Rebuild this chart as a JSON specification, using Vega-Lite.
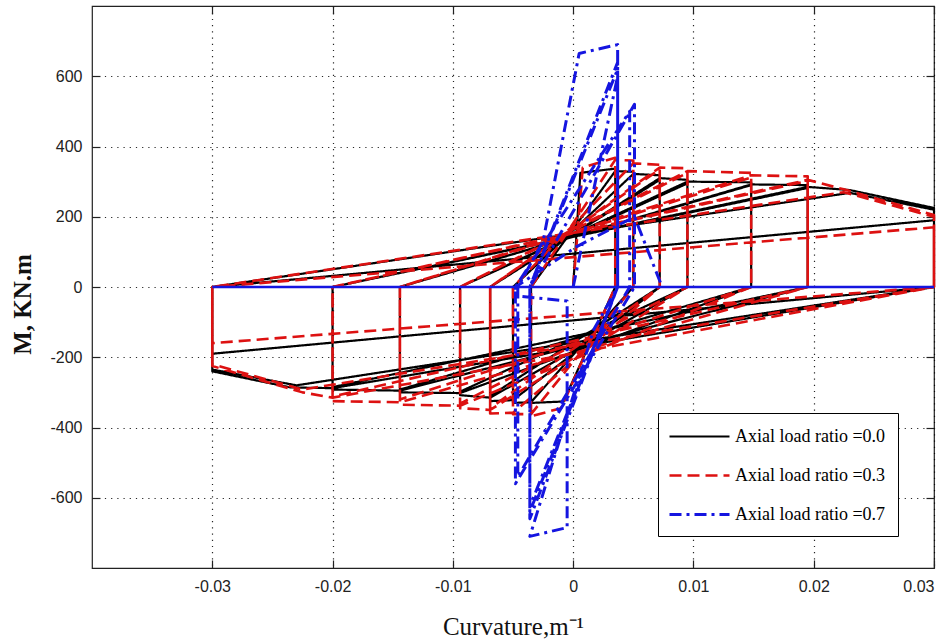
{
"$schema": "https://vega.github.io/schema/vega-lite/v6.json",
"width": 842, "height": 562,
"autosize": {"type": "none"},
"padding": {"left": 92, "top": 6, "right": 18, "bottom": 72},
"background": "white",
"datasets": {
"curves": [
{"k":"0.0","i":1,"x":0,"m":0},{"k":"0.0","i":2,"x":0.0006,"m":325},{"k":"0.0","i":3,"x":0.0035,"m":337},{"k":"0.0","i":4,"x":0.0035,"m":0},
{"k":"0.0","i":5,"x":-0.0008,"m":-326},{"k":"0.0","i":6,"x":-0.0035,"m":-330},{"k":"0.0","i":7,"x":-0.0035,"m":0},
{"k":"0.0","i":8,"x":0.0035,"m":330},{"k":"0.0","i":9,"x":0.005,"m":328},{"k":"0.0","i":10,"x":0.005,"m":0},
{"k":"0.0","i":11,"x":-0.0035,"m":-328},{"k":"0.0","i":12,"x":-0.005,"m":-330},{"k":"0.0","i":13,"x":-0.005,"m":0},
{"k":"0.0","i":14,"x":0.005,"m":322},{"k":"0.0","i":15,"x":0.0072,"m":318},{"k":"0.0","i":16,"x":0.0072,"m":0},
{"k":"0.0","i":17,"x":-0.005,"m":-322},{"k":"0.0","i":18,"x":-0.0069,"m":-325},{"k":"0.0","i":19,"x":-0.0069,"m":0},
{"k":"0.0","i":20,"x":0.0072,"m":305},{"k":"0.0","i":21,"x":0.0072,"m":0},{"k":"0.0","i":22,"x":-0.0069,"m":-310},{"k":"0.0","i":23,"x":-0.0069,"m":0},
{"k":"0.0","i":24,"x":0.0072,"m":310},{"k":"0.0","i":25,"x":0.0095,"m":305},{"k":"0.0","i":26,"x":0.0095,"m":0},
{"k":"0.0","i":27,"x":-0.0069,"m":-315},{"k":"0.0","i":28,"x":-0.0094,"m":-308},{"k":"0.0","i":29,"x":-0.0094,"m":0},
{"k":"0.0","i":30,"x":0.0095,"m":295},{"k":"0.0","i":31,"x":0.0095,"m":0},{"k":"0.0","i":32,"x":-0.0094,"m":-298},{"k":"0.0","i":33,"x":-0.0094,"m":0},
{"k":"0.0","i":34,"x":0.0095,"m":300},{"k":"0.0","i":35,"x":0.0148,"m":298},{"k":"0.0","i":36,"x":0.0148,"m":0},
{"k":"0.0","i":37,"x":-0.0094,"m":-302},{"k":"0.0","i":38,"x":-0.0144,"m":-300},{"k":"0.0","i":39,"x":-0.0144,"m":0},
{"k":"0.0","i":40,"x":0.0148,"m":290},{"k":"0.0","i":41,"x":0.0148,"m":0},{"k":"0.0","i":42,"x":-0.0144,"m":-292},{"k":"0.0","i":43,"x":-0.0144,"m":0},
{"k":"0.0","i":44,"x":0.0148,"m":292},{"k":"0.0","i":45,"x":0.0195,"m":290},{"k":"0.0","i":46,"x":0.0195,"m":0},
{"k":"0.0","i":47,"x":-0.0144,"m":-295},{"k":"0.0","i":48,"x":-0.02,"m":-292},{"k":"0.0","i":49,"x":-0.02,"m":0},
{"k":"0.0","i":50,"x":0.0195,"m":282},{"k":"0.0","i":51,"x":0.0195,"m":0},{"k":"0.0","i":52,"x":-0.02,"m":-285},{"k":"0.0","i":53,"x":-0.02,"m":0},
{"k":"0.0","i":54,"x":0.0195,"m":285},{"k":"0.0","i":55,"x":0.023,"m":276},{"k":"0.0","i":56,"x":0.03,"m":225},{"k":"0.0","i":57,"x":0.03,"m":0},
{"k":"0.0","i":58,"x":-0.02,"m":-288},{"k":"0.0","i":59,"x":-0.0235,"m":-286},{"k":"0.0","i":60,"x":-0.03,"m":-240},{"k":"0.0","i":61,"x":-0.03,"m":0},
{"k":"0.0","i":62,"x":0.023,"m":268},{"k":"0.0","i":63,"x":0.03,"m":220},{"k":"0.0","i":64,"x":0.03,"m":0},
{"k":"0.0","i":65,"x":-0.023,"m":-280},{"k":"0.0","i":66,"x":-0.03,"m":-235},{"k":"0.0","i":67,"x":-0.03,"m":0},
{"k":"0.0","i":68,"x":0.03,"m":190},{"k":"0.0","i":69,"x":0.03,"m":0},{"k":"0.0","i":70,"x":-0.03,"m":-190},{"k":"0.0","i":71,"x":-0.03,"m":0},

{"k":"0.3","i":1,"x":0,"m":0},{"k":"0.3","i":2,"x":0.0008,"m":340},{"k":"0.3","i":3,"x":0.0035,"m":368},{"k":"0.3","i":4,"x":0.0035,"m":0},
{"k":"0.3","i":5,"x":-0.001,"m":-345},{"k":"0.3","i":6,"x":-0.0035,"m":-368},{"k":"0.3","i":7,"x":-0.0035,"m":0},
{"k":"0.3","i":8,"x":0.0035,"m":362},{"k":"0.3","i":9,"x":0.005,"m":360},{"k":"0.3","i":10,"x":0.005,"m":0},
{"k":"0.3","i":11,"x":-0.0035,"m":-362},{"k":"0.3","i":12,"x":-0.005,"m":-362},{"k":"0.3","i":13,"x":-0.005,"m":0},
{"k":"0.3","i":14,"x":0.005,"m":352},{"k":"0.3","i":15,"x":0.0072,"m":348},{"k":"0.3","i":16,"x":0.0072,"m":0},
{"k":"0.3","i":17,"x":-0.005,"m":-358},{"k":"0.3","i":18,"x":-0.0069,"m":-360},{"k":"0.3","i":19,"x":-0.0069,"m":0},
{"k":"0.3","i":20,"x":0.0072,"m":335},{"k":"0.3","i":21,"x":0.0072,"m":0},{"k":"0.3","i":22,"x":-0.0069,"m":-345},{"k":"0.3","i":23,"x":-0.0069,"m":0},
{"k":"0.3","i":24,"x":0.0072,"m":340},{"k":"0.3","i":25,"x":0.0095,"m":338},{"k":"0.3","i":26,"x":0.0095,"m":0},
{"k":"0.3","i":27,"x":-0.0069,"m":-350},{"k":"0.3","i":28,"x":-0.0094,"m":-345},{"k":"0.3","i":29,"x":-0.0094,"m":0},
{"k":"0.3","i":30,"x":0.0095,"m":325},{"k":"0.3","i":31,"x":0.0095,"m":0},{"k":"0.3","i":32,"x":-0.0094,"m":-332},{"k":"0.3","i":33,"x":-0.0094,"m":0},
{"k":"0.3","i":34,"x":0.0095,"m":330},{"k":"0.3","i":35,"x":0.0148,"m":325},{"k":"0.3","i":36,"x":0.0148,"m":0},
{"k":"0.3","i":37,"x":-0.0094,"m":-338},{"k":"0.3","i":38,"x":-0.0144,"m":-335},{"k":"0.3","i":39,"x":-0.0144,"m":0},
{"k":"0.3","i":40,"x":0.0148,"m":312},{"k":"0.3","i":41,"x":0.0148,"m":0},{"k":"0.3","i":42,"x":-0.0144,"m":-320},{"k":"0.3","i":43,"x":-0.0144,"m":0},
{"k":"0.3","i":44,"x":0.0148,"m":318},{"k":"0.3","i":45,"x":0.0195,"m":315},{"k":"0.3","i":46,"x":0.0195,"m":0},
{"k":"0.3","i":47,"x":-0.0144,"m":-328},{"k":"0.3","i":48,"x":-0.02,"m":-325},{"k":"0.3","i":49,"x":-0.02,"m":0},
{"k":"0.3","i":50,"x":0.0195,"m":302},{"k":"0.3","i":51,"x":0.0195,"m":0},{"k":"0.3","i":52,"x":-0.02,"m":-312},{"k":"0.3","i":53,"x":-0.02,"m":0},
{"k":"0.3","i":54,"x":0.0195,"m":305},{"k":"0.3","i":55,"x":0.0225,"m":278},{"k":"0.3","i":56,"x":0.03,"m":205},{"k":"0.3","i":57,"x":0.03,"m":0},
{"k":"0.3","i":58,"x":-0.02,"m":-315},{"k":"0.3","i":59,"x":-0.0225,"m":-300},{"k":"0.3","i":60,"x":-0.03,"m":-225},{"k":"0.3","i":61,"x":-0.03,"m":0},
{"k":"0.3","i":62,"x":0.0225,"m":270},{"k":"0.3","i":63,"x":0.03,"m":200},{"k":"0.3","i":64,"x":0.03,"m":0},
{"k":"0.3","i":65,"x":-0.0225,"m":-292},{"k":"0.3","i":66,"x":-0.03,"m":-220},{"k":"0.3","i":67,"x":-0.03,"m":0},
{"k":"0.3","i":68,"x":0.03,"m":170},{"k":"0.3","i":69,"x":0.03,"m":0},{"k":"0.3","i":70,"x":-0.03,"m":-160},{"k":"0.3","i":71,"x":-0.03,"m":0},

{"k":"0.7","i":1,"x":0,"m":0},{"k":"0.7","i":2,"x":0.0037,"m":600},{"k":"0.7","i":3,"x":0.0037,"m":0},
{"k":"0.7","i":4,"x":-0.0036,"m":-640},{"k":"0.7","i":5,"x":-0.0036,"m":0},
{"k":"0.7","i":6,"x":0.0037,"m":640},{"k":"0.7","i":7,"x":0.0037,"m":0},
{"k":"0.7","i":8,"x":-0.0036,"m":-660},{"k":"0.7","i":9,"x":-0.0036,"m":0},
{"k":"0.7","i":10,"x":0.0037,"m":620},{"k":"0.7","i":11,"x":0.0037,"m":0},
{"k":"0.7","i":12,"x":-0.0036,"m":-625},{"k":"0.7","i":13,"x":-0.0036,"m":0},
{"k":"0.7","i":14,"x":0.0051,"m":520},{"k":"0.7","i":15,"x":0.0051,"m":0},
{"k":"0.7","i":16,"x":-0.0048,"m":-560},{"k":"0.7","i":17,"x":-0.0048,"m":0},
{"k":"0.7","i":18,"x":0.0047,"m":500},{"k":"0.7","i":19,"x":0.0047,"m":0},
{"k":"0.7","i":20,"x":-0.0046,"m":-540},{"k":"0.7","i":21,"x":-0.0046,"m":0},
{"k":"0.7","i":22,"x":-0.0025,"m":130},{"k":"0.7","i":23,"x":0.0005,"m":665},{"k":"0.7","i":24,"x":0.0037,"m":690},{"k":"0.7","i":25,"x":0.0037,"m":0},
{"k":"0.7","i":26,"x":0.0017,"m":-122},{"k":"0.7","i":27,"x":-0.0036,"m":-710},{"k":"0.7","i":28,"x":-0.0005,"m":-685},{"k":"0.7","i":29,"x":-0.0005,"m":-40},
{"k":"0.7","i":30,"x":-0.0048,"m":-25},{"k":"0.7","i":31,"x":-0.0048,"m":0},{"k":"0.7","i":32,"x":0.0003,"m":115},{"k":"0.7","i":33,"x":0.0051,"m":200},{"k":"0.7","i":34,"x":0.0074,"m":0}
],
"zero": [{"x":-0.03,"m":0},{"x":0.03,"m":0}]
},
"config": {
  "view": {"stroke": "#222", "strokeWidth": 1.2},
  "axis": {
    "grid": true, "gridColor": "#000", "gridDash": [1.2, 5], "gridWidth": 1.2, "gridOpacity": 0.85,
    "domain": false, "tickColor": "#222", "tickSize": -8, "tickWidth": 1.2,
    "labelFont": "Liberation Sans", "labelFontSize": 16, "labelColor": "#222",
    "titleFont": "Liberation Serif", "titleColor": "#111"
  },
  "legend": {
    "orient": "none", "legendX": 566, "legendY": 407,
    "strokeColor": "#000", "fillColor": "#fff", "padding": 12,
    "symbolType": "M-3,0H3", "symbolSize": 400, "symbolStrokeWidth": 2.5, "symbolOffset": 18,
    "symbolFillColor": "transparent",
    "labelFont": "Liberation Serif", "labelFontSize": 18, "labelColor": "#000",
    "labelLimit": 400, "labelOffset": 24, "rowPadding": 18
  }
},
"layer": [
  {
    "data": {"name": "curves"},
    "mark": {"type": "line", "strokeJoin": "round"},
    "encoding": {
      "x": {"field": "x", "type": "quantitative",
            "scale": {"domain": [-0.04, 0.03], "nice": false, "zero": false},
            "axis": {"values": [-0.03, -0.02, -0.01, 0, 0.01, 0.02, 0.03],
                     "labelExpr": "replace(format(datum.value, '.2~f'), '\u2212', '-')",
                     "labelPadding": 18, "title": "Curvature,m\u207b\u00b9",
                     "titleFontSize": 25, "titleFontWeight": "normal", "titlePadding": 20}},
      "y": {"field": "m", "type": "quantitative",
            "scale": {"domain": [-800, 800], "nice": false},
            "axis": {"values": [-600, -400, -200, 0, 200, 400, 600],
                     "labelExpr": "replace(format(datum.value, 'd'), '\u2212', '-')",
                     "labelPadding": 18, "title": "M, KN.m",
                     "titleFontSize": 25, "titleFontWeight": "bold", "titlePadding": 14, "titleY": 298}},
      "order": {"field": "i", "type": "quantitative"},
      "color": {"field": "k", "type": "nominal",
                "scale": {"domain": ["0.0", "0.3", "0.7"], "range": ["#000000", "#dd1111", "#1515e0"]},
                "legend": {"title": null, "labelExpr": "'Axial load ratio =' + datum.label"}},
      "strokeDash": {"field": "k", "type": "nominal",
                "scale": {"domain": ["0.0", "0.3", "0.7"], "range": [[1, 0], [12, 6], [12, 5, 3, 5]]},
                "legend": {"title": null, "labelExpr": "'Axial load ratio =' + datum.label"}},
      "strokeWidth": {"field": "k", "type": "ordinal",
                "scale": {"domain": ["0.0", "0.3", "0.7"], "range": [2.2, 3, 2.5]},
                "legend": null}
    }
  },
  {
    "data": {"name": "zero"},
    "mark": {"type": "line", "color": "#1515e0", "strokeWidth": 2.5},
    "encoding": {
      "x": {"field": "x", "type": "quantitative",
            "axis": {"orient": "top", "values": [-0.03, -0.02, -0.01, 0, 0.01, 0.02, 0.03], "labels": false, "grid": false, "title": null}},
      "y": {"field": "m", "type": "quantitative",
            "axis": {"orient": "right", "values": [-600, -400, -200, 0, 200, 400, 600], "labels": false, "grid": false, "title": null}}
    }
  }
],
"resolve": {"axis": {"x": "independent", "y": "independent"}}
}
